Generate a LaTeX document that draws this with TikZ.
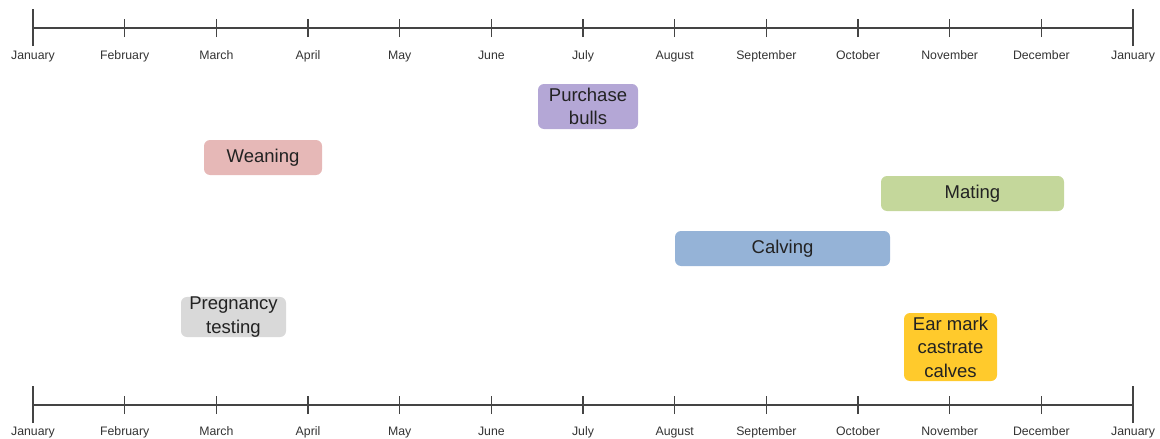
\documentclass[tikz,border=0pt]{standalone}
\usepackage{fontspec}
\setmainfont{Liberation Sans}
\begin{document}
\begin{tikzpicture}[x=1pt,y=-1pt,
  axisline/.style={draw=axisgray,line width=1.4pt},
  monthlbl/.style={font=\fontsize{12.3}{14}\selectfont,text=labelgray,anchor=base,inner sep=0pt},
  task/.style={rounded corners=6pt,inner sep=2pt,align=center,text=textdark,
    font=\fontsize{18.5}{23.5}\selectfont},
]
\definecolor{axisgray}{HTML}{444444}
\definecolor{labelgray}{HTML}{333333}
\definecolor{textdark}{HTML}{222222}
\definecolor{cpurple}{HTML}{B4A7D6}
\definecolor{cpink}{HTML}{E6B8B7}
\definecolor{cgreen}{HTML}{C4D79B}
\definecolor{cblue}{HTML}{95B3D7}
\definecolor{cgrey}{HTML}{D9D9D9}
\definecolor{cyellow}{HTML}{FFCA2C}
\useasboundingbox (0,0) rectangle (1160,439);

% two month axes, top and bottom
\foreach \ax/\y/\lb in {top/28/59, bot/405/435}{
  \foreach \m/\name [count=\i from 0] in {Jan/January,Feb/February,Mar/March,Apr/April,May/May,Jun/June,Jul/July,Aug/August,Sep/September,Oct/October,Nov/November,Dec/December,End/January}{
    \coordinate (\ax\m) at ({33+\i*91.67},\y);
    \node[monthlbl] (\ax\m lbl) at ({33+\i*91.67},\lb) {\name};
  }
  \draw[axisline] (\ax Jan) -- (\ax End);
  \foreach \m in {Feb,Mar,Apr,May,Jun,Jul,Aug,Sep,Oct,Nov,Dec}
    \draw[axisline] ([yshift=-9pt]\ax\m) -- ([yshift=9pt]\ax\m);
  \foreach \m in {Jan,End}
    \draw[axisline] ([yshift=-18pt]\ax\m) -- ([yshift=19pt]\ax\m);
}

% activities
\node[task,fill=cpurple,minimum width=100pt,minimum height=45pt] (bulls) at (588,106.5) {Purchase\\bulls};
\node[task,fill=cpink,minimum width=118pt,minimum height=35pt] (wean) at (263,157.5) {Weaning};
\node[task,fill=cgreen,minimum width=183pt,minimum height=35pt] (mate) at (972.5,193.5) {Mating};
\node[task,fill=cblue,minimum width=215pt,minimum height=35pt] (calve) at (782.5,248.5) {Calving};
\node[task,fill=cgrey,minimum width=105pt,minimum height=35pt,inner sep=0pt] (preg) at (233.5,317) {Pregnancy\\testing};
\node[task,fill=cyellow,minimum width=93pt,minimum height=68pt] (mark) at (950.5,347) {Ear mark\\castrate\\calves};
\end{tikzpicture}
\end{document}
